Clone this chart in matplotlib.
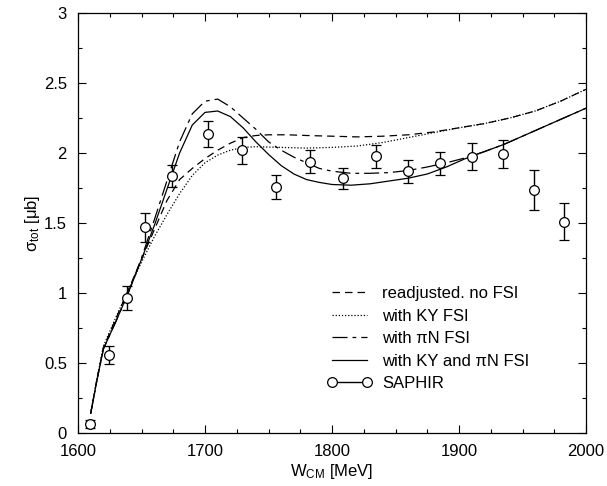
import matplotlib
matplotlib.use("Agg")
import matplotlib.pyplot as plt
from matplotlib.ticker import MultipleLocator
from matplotlib.lines import Line2D

plt.rcParams['font.family'] = ['Liberation Sans', 'DejaVu Sans']
plt.rcParams['mathtext.fontset'] = 'custom'
plt.rcParams['mathtext.rm'] = 'Liberation Sans'
plt.rcParams['mathtext.it'] = 'Liberation Sans'

# --- curves ---
w_solid = [1610, 1615, 1620, 1630, 1640, 1650, 1660, 1670, 1680, 1690, 1700, 1710, 1720, 1730,
           1740, 1750, 1760, 1770, 1780, 1790, 1800, 1815, 1830, 1845, 1860, 1875, 1890, 1905,
           1920, 1935, 1950, 1965, 1980, 2000]
s_solid = [0.14, 0.38, 0.60, 0.80, 1.01, 1.24, 1.48, 1.74, 2.00, 2.20, 2.29, 2.30, 2.26, 2.18,
           2.08, 1.99, 1.91, 1.85, 1.81, 1.79, 1.775, 1.77, 1.78, 1.80, 1.82, 1.85, 1.90, 1.96,
           2.01, 2.06, 2.12, 2.18, 2.24, 2.32]

w_pin = [1610, 1615, 1620, 1630, 1640, 1650, 1660, 1670, 1680, 1690, 1700, 1710, 1720, 1730,
         1740, 1750, 1760, 1770, 1780, 1790, 1800, 1815, 1830, 1845, 1860, 1875, 1890, 1905,
         1920, 1935, 1950, 1965, 1980, 2000]
s_pin = [0.14, 0.38, 0.60, 0.80, 1.01, 1.25, 1.52, 1.80, 2.08, 2.28, 2.37, 2.385, 2.33, 2.25,
         2.17, 2.08, 2.02, 1.97, 1.93, 1.89, 1.87, 1.855, 1.855, 1.86, 1.875, 1.90, 1.93, 1.965,
         2.01, 2.06, 2.12, 2.18, 2.24, 2.32]

w_nofsi = [1610, 1615, 1620, 1630, 1640, 1650, 1660, 1670, 1680, 1690, 1700, 1710, 1720, 1730,
           1740, 1750, 1765, 1780, 1800, 1820, 1840, 1860, 1880, 1900, 1920, 1940, 1960, 1980, 2000]
s_nofsi = [0.14, 0.39, 0.61, 0.82, 1.03, 1.24, 1.45, 1.66, 1.81, 1.89, 1.96, 2.02, 2.07, 2.11,
           2.125, 2.13, 2.13, 2.125, 2.12, 2.115, 2.12, 2.13, 2.15, 2.18, 2.21, 2.25, 2.30, 2.37, 2.455]

w_ky = [1610, 1615, 1620, 1630, 1640, 1650, 1660, 1670, 1680, 1690, 1700, 1710, 1720, 1730,
        1740, 1760, 1780, 1800, 1820, 1840, 1860, 1880, 1900, 1920, 1940, 1960, 1980, 2000]
s_ky = [0.14, 0.39, 0.62, 0.83, 1.03, 1.22, 1.40, 1.56, 1.71, 1.84, 1.93, 1.985, 2.02, 2.04,
        2.045, 2.04, 2.035, 2.04, 2.05, 2.075, 2.11, 2.145, 2.18, 2.21, 2.25, 2.30, 2.37, 2.455]

# --- SAPHIR data ---
w_data = [1609.8, 1624.5, 1638.9, 1653.0, 1674.0, 1702.0, 1729.5, 1756.0, 1782.7, 1808.7,
          1834.4, 1859.8, 1885.0, 1910.0, 1934.5, 1959.0, 1982.3]
s_data = [0.066, 0.556, 0.966, 1.468, 1.835, 2.136, 2.02, 1.759, 1.939, 1.818,
          1.977, 1.868, 1.927, 1.975, 1.994, 1.736, 1.51]
e_data = [0.03, 0.065, 0.085, 0.107, 0.08, 0.09, 0.096, 0.087, 0.084, 0.075,
          0.083, 0.082, 0.082, 0.098, 0.10, 0.145, 0.134]

labels = ["readjusted. no FSI", "with KY FSI", "with \u03c0N FSI",
          "with KY and \u03c0N FSI", "SAPHIR"]
x_ticks = [1600, 1700, 1800, 1900, 2000]
y_ticks = [0, 0.5, 1, 1.5, 2, 2.5, 3]
y_ticklabels = ['0', '0.5', '1', '1.5', '2', '2.5', '3']

fig = plt.figure(figsize=(6.07, 4.86), dpi=100)
ax = fig.add_axes([78/607, 53/486, 508/607, 420/486])

lw = 0.9
h1, = ax.plot(w_nofsi, s_nofsi, color='black', lw=lw, dashes=(6, 4))
h2, = ax.plot(w_ky, s_ky, color='black', lw=lw, dashes=(1, 1.5))
h3, = ax.plot(w_pin, s_pin, color='black', lw=lw, dashes=(12, 4, 3, 4))
h4, = ax.plot(w_solid, s_solid, color='black', lw=lw)
ax.errorbar(w_data, s_data, yerr=e_data, fmt='o', mfc='white', mec='black', ms=7,
            mew=0.9, ecolor='black', elinewidth=1.0, capsize=3.5, capthick=1.0)
sap = Line2D([], [], color='black', lw=1.0, marker='o', mfc='white', mec='black', ms=7, mew=0.9)
ax.legend([h1, h2, h3, h4, sap], labels, loc='upper left', bbox_to_anchor=(0.49, 0.35),
          frameon=False, fontsize=12, handlelength=2.7, handletextpad=0.6,
          labelspacing=0.45, numpoints=2, borderaxespad=0, borderpad=0)

ax.set_xlim(1600, 2000)
ax.set_ylim(0, 3)
ax.set_xticks(x_ticks)
ax.set_yticks(y_ticks)
ax.set_yticklabels(y_ticklabels)
ax.xaxis.set_minor_locator(MultipleLocator(25))
ax.yaxis.set_minor_locator(MultipleLocator(0.25))
ax.tick_params(which='both', direction='in', top=True, right=True, labelsize=12)
ax.tick_params(which='major', length=6, width=0.8)
ax.tick_params(which='minor', length=3, width=0.8)
ax.tick_params(axis='x', which='major', pad=8)
ax.tick_params(axis='y', which='major', pad=8)
for sp in ax.spines.values():
    sp.set_linewidth(0.9)

ax.set_xlabel(r'W$_{\rm CM}$ [MeV]', fontsize=12, labelpad=2)
ax.set_ylabel('\u03c3$_{\\rm tot}$ [\u03bcb]', fontsize=12, labelpad=1)

fig.savefig('out.png', dpi=100)
